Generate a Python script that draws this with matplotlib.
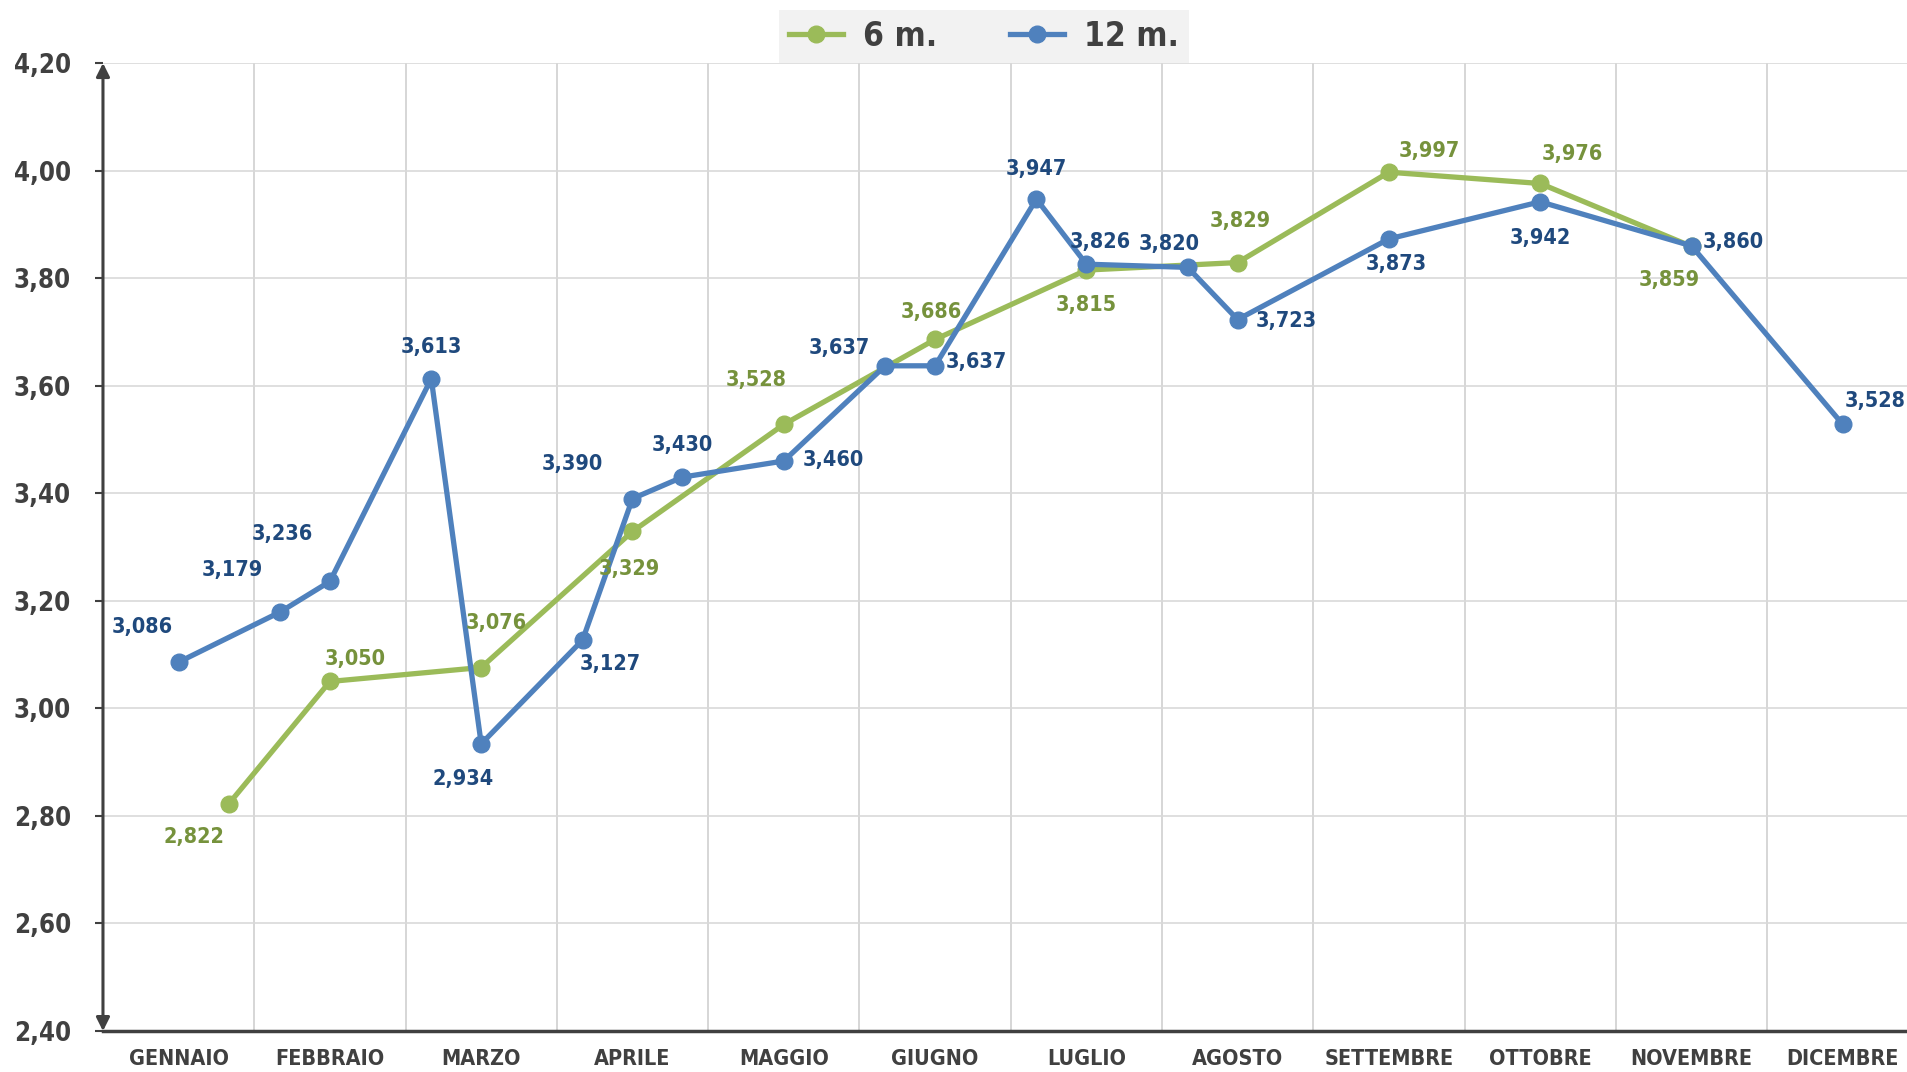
#!/usr/bin/python
# -*- coding:UTF-8 -*-

import matplotlib
matplotlib.use('Agg')
import matplotlib.pyplot as plt

# mesi sull'asse x
mesi = ["GENNAIO", "FEBBRAIO", "MARZO", "APRILE", "MAGGIO", "GIUGNO",
        "LUGLIO", "AGOSTO", "SETTEMBRE", "OTTOBRE", "NOVEMBRE", "DICEMBRE"]

# serie 6 m. (posizione in mesi, valore)
x_6m = [0.33, 1, 2, 3, 4, 5, 6, 7, 8, 9, 10]
y_6m = [2.822, 3.050, 3.076, 3.329, 3.528, 3.686, 3.815, 3.829, 3.997, 3.976, 3.859]

# serie 12 m.
x_12m = [0, 0.67, 1, 1.67, 2, 2.67, 3, 3.33, 4, 4.67, 5, 5.67, 6, 6.67, 7, 8, 9, 10, 11]
y_12m = [3.086, 3.179, 3.236, 3.613, 2.934, 3.127, 3.390, 3.430, 3.460, 3.637,
         3.637, 3.947, 3.826, 3.820, 3.723, 3.873, 3.942, 3.860, 3.528]

y_ticks = [2.40, 2.60, 2.80, 3.00, 3.20, 3.40, 3.60, 3.80, 4.00, 4.20]

# spostamento etichette (punti tipografici)
off_6m = [(-25, -24), (18, 16), (11, 32), (-2, -27), (-20, 32), (-3, 20),
          (0, -25), (2, 30), (29, 15), (23, 21), (-16, -24)]
off_12m = [(-26, 25), (-34, 30), (-34, 34), (0, 23), (-13, -25), (20, -17),
           (-43, 25), (0, 23), (36, 1), (-33, 13), (30, 3), (0, 22),
           (10, 16), (-13, 17), (35, -1), (5, -18), (0, -26), (30, 3), (23, 17)]

GREEN = '#9BBB59'
BLUE = '#4F81BD'
GREEN_TXT = '#76923C'
BLUE_TXT = '#1F497D'
GRAY = '#404040'


def fmt(v, dec=3):
    return f"{v:.{dec}f}".replace('.', ',')


def draw():
    plt.rcParams['font.family'] = ['DejaVu Sans']
    plt.rcParams['font.stretch'] = 'condensed'
    plt.rcParams['font.weight'] = 'bold'

    fig = plt.figure(figsize=(19.07, 10.72), dpi=100)
    ax = fig.add_axes([0.054, 0.0382, 0.952, 0.903])

    ax.plot(x_6m, y_6m, color=GREEN, lw=3.8, marker='o', ms=12, label='6 m.', zorder=3)
    ax.plot(x_12m, y_12m, color=BLUE, lw=3.8, marker='o', ms=12, label='12 m.', zorder=4)

    for x, y, o in zip(x_6m, y_6m, off_6m):
        ax.annotate(fmt(y), (x, y), xytext=o, textcoords='offset points',
                    ha='center', va='center', fontsize=15.5, fontweight='bold',
                    color=GREEN_TXT, zorder=5)
    for x, y, o in zip(x_12m, y_12m, off_12m):
        ax.annotate(fmt(y), (x, y), xytext=o, textcoords='offset points',
                    ha='center', va='center', fontsize=15.5, fontweight='bold',
                    color=BLUE_TXT, zorder=5, annotation_clip=False)

    ax.set_xlim(-0.5, len(mesi) - 0.5)
    ax.set_ylim(y_ticks[0], y_ticks[-1])
    ax.set_xticks(range(len(mesi)))
    ax.set_xticklabels(mesi, fontsize=15.5, fontweight='bold', color=GRAY)
    ax.set_xticks([i + 0.5 for i in range(len(mesi) - 1)], minor=True)
    ax.set_yticks(y_ticks)
    ax.set_yticklabels([fmt(v, 2) for v in y_ticks], fontsize=18.5, fontweight='bold', color=GRAY)

    ax.tick_params(axis='x', which='both', length=0, pad=13)
    ax.tick_params(axis='y', length=6, width=1.5, color=GRAY, pad=17)
    ax.grid(axis='y', color='#D9D9D9', lw=1.2, zorder=0)
    ax.grid(axis='x', which='minor', color='#D0D0D0', lw=1.2, zorder=0)

    for s in ['top', 'right', 'left']:
        ax.spines[s].set_visible(False)
    ax.spines['bottom'].set_color(GRAY)
    ax.spines['bottom'].set_linewidth(2.5)

    # asse y con frecce
    ax.annotate('', xy=(0, 1), xytext=(0, 0), xycoords='axes fraction',
                arrowprops=dict(arrowstyle='<|-|>', color=GRAY, lw=2.2,
                                mutation_scale=20, shrinkA=0, shrinkB=0))

    leg = fig.legend(loc='upper center', bbox_to_anchor=(0.516, 0.991), ncol=2,
                     prop=dict(size=24, weight='bold'), frameon=True, fancybox=False,
                     handlelength=1.6, columnspacing=2.2, borderpad=0.3,
                     borderaxespad=0, handletextpad=0.6, labelcolor=GRAY)
    leg.get_frame().set_facecolor('#F2F2F2')
    leg.get_frame().set_edgecolor('none')
    leg.get_frame().set_alpha(1)

    fig.savefig('out.png', dpi=100)


def main():
    draw()


if __name__ == '__main__':
    main()
